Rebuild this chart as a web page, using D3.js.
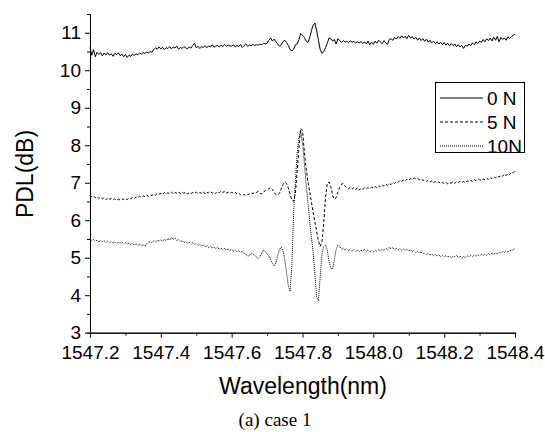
<!DOCTYPE html>
<html>
<head>
<meta charset="utf-8">
<script src="https://cdn.jsdelivr.net/npm/d3@7"></script>
<style>
  body { margin: 0; background: #fff; }
  svg { display: block; font-family: "Liberation Sans", Arial, sans-serif; }
  .axis path, .axis line { stroke: #000; stroke-width: 1; }
  .axis text { fill: #000; font-size: 19px; }
</style>
</head>
<body>
<div id="chart"></div>
<script>
// wavelength grid: 1547.200 .. 1548.400 nm, step 0.005 nm (241 points)
const wlStart = 1547.2;
const wlStep = 0.005;

// PDL (dB), one row = 0.1 nm
const pdl0N = [
  10.62, 10.40, 10.55, 10.36, 10.48, 10.42, 10.47, 10.38, 10.46, 10.41, 10.47, 10.40, 10.44, 10.37, 10.45, 10.42, 10.46, 10.39, 10.43, 10.36,
  10.42, 10.34, 10.40, 10.37, 10.43, 10.39, 10.44, 10.41, 10.46, 10.43, 10.47, 10.45, 10.48, 10.46, 10.50, 10.48, 10.55, 10.60, 10.56, 10.62,
  10.57, 10.61, 10.55, 10.60, 10.58, 10.63, 10.57, 10.62, 10.59, 10.64, 10.56, 10.61, 10.58, 10.63, 10.60, 10.57, 10.62, 10.59, 10.66, 10.72,
  10.60, 10.64, 10.58, 10.63, 10.61, 10.66, 10.60, 10.65, 10.62, 10.68, 10.61, 10.64, 10.66, 10.62, 10.67, 10.63, 10.69, 10.64, 10.67, 10.65,
  10.64, 10.68, 10.62, 10.66, 10.63, 10.69, 10.61, 10.66, 10.70, 10.64, 10.68, 10.65, 10.69, 10.66, 10.68, 10.67, 10.70, 10.68, 10.72, 10.70,
  10.72, 10.80, 10.86, 10.78, 10.83, 10.76, 10.70, 10.64, 10.68, 10.76, 10.80, 10.74, 10.66, 10.55, 10.52, 10.56, 10.68, 10.70, 10.82, 10.98,
  10.93, 10.88, 10.78, 10.74, 10.86, 11.05, 11.20, 11.26, 11.05, 10.80, 10.55, 10.45, 10.50, 10.60, 10.72, 10.86, 10.84, 10.78, 10.82, 10.70,
  10.84, 10.80, 10.74, 10.79, 10.75, 10.77, 10.74, 10.78, 10.75, 10.77, 10.73, 10.76, 10.72, 10.77, 10.71, 10.76, 10.70, 10.78, 10.68, 10.75,
  10.69, 10.78, 10.72, 10.80, 10.75, 10.71, 10.79, 10.73, 10.69, 10.82, 10.84, 10.80, 10.88, 10.83, 10.90, 10.85, 10.92, 10.86, 10.91, 10.84,
  10.93, 10.86, 10.90, 10.83, 10.88, 10.80, 10.86, 10.79, 10.84, 10.77, 10.83, 10.75, 10.80, 10.73, 10.78, 10.71, 10.76, 10.70, 10.75, 10.68,
  10.74, 10.67, 10.72, 10.65, 10.71, 10.66, 10.70, 10.63, 10.68, 10.62, 10.66, 10.58, 10.67, 10.64, 10.70, 10.66, 10.73, 10.68, 10.76, 10.71,
  10.78, 10.74, 10.82, 10.76, 10.84, 10.79, 10.86, 10.78, 10.88, 10.80, 10.90, 10.76, 10.88, 10.82, 10.86, 10.80, 10.89, 10.85, 10.90, 10.93,
  10.96
];

const pdl5N = [
  6.67, 6.62, 6.65, 6.60, 6.63, 6.58, 6.61, 6.57, 6.60, 6.55, 6.59, 6.56, 6.58, 6.54, 6.57, 6.53, 6.56, 6.54, 6.57, 6.55,
  6.58, 6.55, 6.59, 6.57, 6.61, 6.58, 6.62, 6.60, 6.64, 6.61, 6.65, 6.63, 6.67, 6.64, 6.68, 6.66, 6.70, 6.67, 6.71, 6.69,
  6.72, 6.69, 6.74, 6.70, 6.73, 6.71, 6.75, 6.70, 6.74, 6.72, 6.76, 6.71, 6.74, 6.72, 6.75, 6.70, 6.73, 6.71, 6.74, 6.72,
  6.75, 6.71, 6.74, 6.72, 6.76, 6.70, 6.74, 6.73, 6.77, 6.72, 6.75, 6.71, 6.76, 6.73, 6.78, 6.74, 6.77, 6.72, 6.75, 6.73,
  6.74, 6.72, 6.75, 6.70, 6.72, 6.68, 6.66, 6.69, 6.65, 6.68, 6.70, 6.73, 6.71, 6.75, 6.74, 6.77, 6.72, 6.70, 6.74, 6.80,
  6.80, 6.84, 6.87, 6.82, 6.74, 6.68, 6.67, 6.72, 6.84, 6.95, 7.02, 6.98, 6.86, 6.68, 6.55, 6.50, 6.72, 7.30, 7.95, 8.45,
  8.40, 7.85, 7.40, 7.05, 6.78, 6.50, 6.20, 5.95, 5.70, 5.45, 5.30, 5.42, 5.95, 6.60, 6.98, 7.02, 6.90, 6.66, 6.56, 6.60,
  6.74, 6.88, 6.96, 6.98, 6.92, 6.86, 6.84, 6.88, 6.83, 6.87, 6.82, 6.86, 6.80, 6.85, 6.82, 6.86, 6.83, 6.87, 6.84, 6.88,
  6.86, 6.90, 6.87, 6.92, 6.89, 6.94, 6.91, 6.96, 6.93, 6.98, 6.95, 7.00, 6.98, 7.03, 7.01, 7.06, 7.03, 7.08, 7.05, 7.10,
  7.07, 7.11, 7.09, 7.13, 7.10, 7.12, 7.08, 7.10, 7.06, 7.08, 7.04, 7.06, 7.02, 7.05, 7.00, 7.03, 6.99, 7.02, 6.98, 7.01,
  6.98, 7.01, 6.97, 7.00, 6.99, 7.02, 6.98, 7.03, 7.00, 7.04, 7.01, 7.03, 7.00, 7.05, 7.02, 7.06, 7.03, 7.08, 7.05, 7.07,
  7.09, 7.06, 7.10, 7.08, 7.12, 7.09, 7.14, 7.11, 7.16, 7.13, 7.18, 7.15, 7.20, 7.17, 7.23, 7.19, 7.25, 7.22, 7.28, 7.26,
  7.31
];

const pdl10N = [
  5.50, 5.46, 5.49, 5.44, 5.47, 5.42, 5.46, 5.43, 5.45, 5.41, 5.44, 5.40, 5.43, 5.39, 5.42, 5.38, 5.41, 5.39, 5.42, 5.37,
  5.40, 5.36, 5.39, 5.35, 5.38, 5.34, 5.37, 5.33, 5.36, 5.31, 5.35, 5.30, 5.37, 5.41, 5.44, 5.40, 5.46, 5.42, 5.47, 5.44,
  5.48, 5.44, 5.49, 5.45, 5.51, 5.47, 5.54, 5.49, 5.52, 5.46, 5.48, 5.43, 5.45, 5.40, 5.43, 5.39, 5.41, 5.36, 5.40, 5.35,
  5.38, 5.33, 5.36, 5.31, 5.34, 5.29, 5.33, 5.27, 5.31, 5.26, 5.29, 5.24, 5.28, 5.22, 5.26, 5.21, 5.25, 5.20, 5.23, 5.19,
  5.22, 5.18, 5.21, 5.16, 5.19, 5.14, 5.17, 5.12, 5.10, 5.04, 5.06, 5.12, 5.10, 5.06, 5.02, 4.98, 5.04, 5.12, 5.20, 5.16,
  5.10, 5.05, 4.95, 4.85, 4.78, 4.86, 5.05, 5.22, 5.28, 5.18, 4.95, 4.60, 4.25, 4.10, 4.80, 6.20, 7.05, 7.80, 8.20, 8.38,
  8.05, 7.55, 7.00, 6.50, 6.00, 5.55, 5.15, 4.55, 3.95, 3.85, 4.50, 5.10, 5.30, 5.34, 5.20, 4.90, 4.72, 4.70, 4.95, 5.22,
  5.34, 5.30, 5.22, 5.26, 5.20, 5.24, 5.19, 5.23, 5.18, 5.22, 5.17, 5.21, 5.16, 5.20, 5.18, 5.22, 5.17, 5.21, 5.15, 5.19,
  5.16, 5.20, 5.17, 5.21, 5.19, 5.23, 5.20, 5.25, 5.22, 5.28, 5.24, 5.27, 5.22, 5.25, 5.21, 5.24, 5.20, 5.23, 5.19, 5.22,
  5.18, 5.21, 5.16, 5.19, 5.14, 5.17, 5.12, 5.15, 5.10, 5.13, 5.08, 5.12, 5.07, 5.10, 5.05, 5.09, 5.04, 5.08, 5.03, 5.06,
  5.02, 5.06, 5.01, 5.05, 5.00, 5.04, 5.02, 5.06, 5.01, 5.04, 5.00, 5.03, 5.01, 5.05, 5.02, 5.06, 5.03, 5.07, 5.04, 5.08,
  5.05, 5.09, 5.06, 5.10, 5.07, 5.11, 5.08, 5.12, 5.09, 5.13, 5.10, 5.15, 5.12, 5.16, 5.14, 5.18, 5.15, 5.20, 5.18, 5.22,
  5.26
];

const seriesNames = ['0 N', '5 N', '10N'];
const seriesDash = [null, '3,2', '1,1'];
const xTicks = [1547.2, 1547.4, 1547.6, 1547.8, 1548.0, 1548.2, 1548.4];
const yTicks = [3, 4, 5, 6, 7, 8, 9, 10, 11];

function drawChart() {
    const width = 545;
    const height = 432;

    const svg = d3.select('#chart')
    .append('svg')
    .attr('width', width)
    .attr('height', height);

    const xScale = d3.scaleLinear().domain([1547.2, 1548.4]).range([90, 515]);
    const yScale = d3.scaleLinear().domain([3, 11.5]).range([332.7, 14]);

    // minor ticks (every 0.1 nm / 0.5 dB)
    const xMinor = d3.range(1547.3, 1548.4, 0.2);
    const yMinor = d3.range(3.5, 11.5, 1);

    svg.append('g')
    .attr('class', 'axis')
    .attr('transform', 'translate(0,332.7)')
    .call(d3.axisBottom(xScale).tickValues(xMinor).tickSize(3).tickFormat(''));

    svg.append('g')
    .attr('class', 'axis')
    .attr('transform', 'translate(90,0)')
    .call(d3.axisLeft(yScale).tickValues(yMinor).tickSize(3).tickFormat(''));

    svg.append('g')
    .attr('class', 'axis')
    .attr('transform', 'translate(0,332.7)')
    .call(d3.axisBottom(xScale).tickValues(xTicks).tickSize(5).tickSizeOuter(0)
        .tickPadding(8).tickFormat(d3.format('.1f')));

    svg.append('g')
    .attr('class', 'axis')
    .attr('transform', 'translate(90,0)')
    .call(d3.axisLeft(yScale).tickValues(yTicks).tickSize(5).tickSizeOuter(0)
        .tickPadding(4).tickFormat(d3.format('d')));

    // curves
    const allSeries = [pdl0N, pdl5N, pdl10N];
    const line = d3.line()
    .x((d, i) => xScale(wlStart + i * wlStep))
    .y((d) => yScale(d));

    svg.append('g')
    .selectAll('path')
    .data(allSeries)
    .join('path')
    .attr('d', line)
    .attr('fill', 'none')
    .attr('stroke', '#000')
    .attr('stroke-width', 1)
    .attr('stroke-dasharray', (d, i) => seriesDash[i]);

    // legend
    const legend = svg.append('g');
    legend.append('rect')
    .attr('x', 435.5).attr('y', 82.5)
    .attr('width', 89).attr('height', 70)
    .attr('fill', '#fff').attr('stroke', '#000');

    seriesNames.forEach((name, i) => {
        const y = 98 + i * 24;
        legend.append('line')
        .attr('x1', 440).attr('x2', 483)
        .attr('y1', y).attr('y2', y)
        .attr('stroke', '#000')
        .attr('stroke-dasharray', seriesDash[i]);
        legend.append('text')
        .attr('x', 487).attr('y', y + 7)
        .style('font-size', '19px')
        .text(name);
    });

    // axis titles
    svg.append('text')
    .attr('transform', 'translate(33,174) rotate(-90)')
    .attr('text-anchor', 'middle')
    .style('font-size', '23px')
    .text('PDL(dB)');

    svg.append('text')
    .attr('x', 303).attr('y', 394)
    .attr('text-anchor', 'middle')
    .style('font-size', '23px')
    .text('Wavelength(nm)');

    svg.append('text')
    .attr('x', 275).attr('y', 426)
    .attr('text-anchor', 'middle')
    .style('font-family', '"Liberation Serif", "Times New Roman", serif')
    .style('font-size', '19px')
    .text('(a) case 1');
}

drawChart();
</script>
</body>
</html>
